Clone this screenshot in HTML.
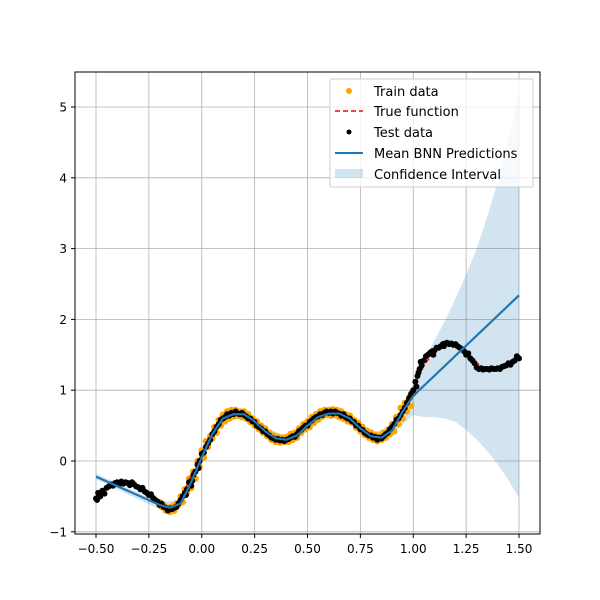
<!DOCTYPE html>
<html><head><meta charset="utf-8"><style>
body{margin:0;background:#fff;}
svg{display:block;font-family:"DejaVu Sans",sans-serif;}
</style></head><body>
<svg id="chart" width="600" height="600" xmlns="http://www.w3.org/2000/svg">
<rect width="600" height="600" fill="#fff"/>
<g id="grid"></g>
<g id="ci"></g>
<g id="train"></g>
<g id="truef"></g>
<g id="test"></g>
<g id="mean"></g>
<rect x="75" y="72" width="465" height="462" fill="none" stroke="#000" stroke-width="1"/>
<g id="ticks" font-size="12"></g>
<g font-size="13">
<rect x="330" y="79" width="203" height="108" rx="2" fill="#fff" fill-opacity="0.8" stroke="#ccc"/>
<g><circle cx="349" cy="91" r="3" fill="orange"/><text x="374" y="96">Train data</text></g>
<g><line x1="335" y1="111" x2="363" y2="111" stroke="red" stroke-width="1.5" stroke-dasharray="5,3"/><text x="374" y="116">True function</text></g>
<g><circle cx="349" cy="132" r="2.5" fill="#000"/><text x="374" y="137">Test data</text></g>
<g><line x1="335" y1="153" x2="363" y2="153" stroke="#1f77b4" stroke-width="2"/><text x="374" y="158">Mean BNN Predictions</text></g>
<g><rect x="335" y="169" width="28" height="9" fill="#1f77b4" fill-opacity="0.2"/><text x="374" y="179">Confidence Interval</text></g>
</g>
</svg>
<script>
const trueX=[-0.5,-0.45,-0.4,-0.35,-0.3,-0.25,-0.2,-0.15,-0.1,-0.05,0,0.05,0.1,0.15,0.2,0.25,0.3,0.35,0.4,0.45,0.5,0.55,0.6,0.65,0.7,0.75,0.8,0.85,0.9,0.95,1.0,1.05,1.1,1.15,1.2,1.25,1.3,1.35,1.4,1.45,1.5];
const trueY=[-0.5,-0.36,-0.31,-0.32,-0.38,-0.5,-0.63,-0.67,-0.55,-0.2,0.1,0.4,0.6,0.67,0.66,0.55,0.42,0.32,0.3,0.36,0.5,0.62,0.68,0.67,0.6,0.47,0.36,0.33,0.45,0.7,1.0,1.35,1.55,1.65,1.65,1.55,1.38,1.3,1.3,1.35,1.45];
const meanX=[-0.5,-0.2,-0.15,-0.1,-0.05,0,0.05,0.1,0.15,0.2,0.25,0.3,0.35,0.4,0.45,0.5,0.55,0.6,0.65,0.7,0.75,0.8,0.85,0.9,0.95,1.0,1.5];
const meanY=[-0.22,-0.62,-0.66,-0.6,-0.3,0.05,0.38,0.6,0.66,0.66,0.56,0.42,0.32,0.3,0.36,0.5,0.62,0.67,0.67,0.6,0.46,0.35,0.33,0.43,0.7,0.92,2.34];
const ciX=[-0.5,-0.2,-0.1,0,0.1,0.2,0.3,0.4,0.5,0.6,0.7,0.8,0.9,1.0,1.05,1.1,1.15,1.2,1.25,1.3,1.35,1.4,1.45,1.5];
const ciUpper=[-0.18,-0.58,-0.55,0.1,0.65,0.71,0.47,0.35,0.55,0.72,0.65,0.4,0.48,1.1,1.45,1.7,1.98,2.3,2.63,3.0,3.45,3.95,4.55,5.2];
const ciLower=[-0.26,-0.68,-0.65,0.0,0.55,0.61,0.37,0.25,0.45,0.62,0.55,0.3,0.38,0.65,0.62,0.62,0.6,0.55,0.44,0.3,0.14,-0.05,-0.27,-0.52];
const trainX=[-0.2,-0.19,-0.18,-0.17,-0.16,-0.15,-0.14,-0.13,-0.12,-0.11,-0.1,-0.09,-0.08,-0.07,-0.06,-0.05,-0.04,-0.03,-0.02,-0.01,0,0.01,0.02,0.03,0.04,0.05,0.06,0.07,0.08,0.09,0.1,0.11,0.12,0.13,0.14,0.15,0.16,0.17,0.18,0.19,0.2,0.21,0.22,0.23,0.24,0.25,0.26,0.27,0.28,0.29,0.3,0.31,0.32,0.33,0.34,0.35,0.36,0.37,0.38,0.39,0.4,0.41,0.42,0.43,0.44,0.45,0.46,0.47,0.48,0.49,0.5,0.51,0.52,0.53,0.54,0.55,0.56,0.57,0.58,0.59,0.6,0.61,0.62,0.63,0.64,0.65,0.66,0.67,0.68,0.69,0.7,0.71,0.72,0.73,0.74,0.75,0.76,0.77,0.78,0.79,0.8,0.81,0.82,0.83,0.84,0.85,0.86,0.87,0.88,0.89,0.9,0.91,0.92,0.93,0.94,0.95,0.96,0.97,0.98,0.99,1.0];
const trainY=[-0.58,-0.65,-0.62,-0.7,-0.66,-0.72,-0.64,-0.7,-0.6,-0.62,-0.5,-0.58,-0.4,-0.45,-0.25,-0.38,-0.15,-0.25,0.0,-0.08,0.15,0.05,0.28,0.2,0.35,0.32,0.48,0.4,0.58,0.5,0.65,0.56,0.7,0.6,0.72,0.63,0.72,0.64,0.7,0.62,0.7,0.6,0.66,0.55,0.6,0.5,0.56,0.45,0.5,0.4,0.46,0.35,0.4,0.3,0.36,0.27,0.34,0.26,0.33,0.27,0.34,0.27,0.38,0.3,0.4,0.33,0.46,0.4,0.52,0.45,0.56,0.48,0.62,0.54,0.66,0.58,0.7,0.63,0.72,0.65,0.72,0.64,0.73,0.65,0.72,0.62,0.7,0.6,0.66,0.56,0.64,0.54,0.58,0.47,0.54,0.42,0.48,0.37,0.43,0.33,0.4,0.3,0.37,0.28,0.36,0.3,0.4,0.33,0.44,0.38,0.52,0.42,0.62,0.52,0.75,0.6,0.82,0.7,0.9,0.78,0.95];
const testX=[-0.5,-0.49,-0.48,-0.47,-0.46,-0.45,-0.44,-0.43,-0.42,-0.41,-0.4,-0.39,-0.38,-0.37,-0.36,-0.35,-0.34,-0.33,-0.32,-0.31,-0.3,-0.29,-0.28,-0.27,-0.26,-0.25,-0.24,-0.23,-0.22,-0.21,-0.2,-0.19,-0.18,-0.17,-0.16,-0.15,-0.14,-0.13,-0.12,-0.11,-0.1,-0.09,-0.08,-0.07,-0.06,-0.05,-0.04,-0.03,-0.02,-0.01,0,0.01,0.02,0.03,0.04,0.05,0.06,0.07,0.08,0.09,0.1,0.11,0.12,0.13,0.14,0.15,0.16,0.17,0.18,0.19,0.2,0.21,0.22,0.23,0.24,0.25,0.26,0.27,0.28,0.29,0.3,0.31,0.32,0.33,0.34,0.35,0.36,0.37,0.38,0.39,0.4,0.41,0.42,0.43,0.44,0.45,0.46,0.47,0.48,0.49,0.5,0.51,0.52,0.53,0.54,0.55,0.56,0.57,0.58,0.59,0.6,0.61,0.62,0.63,0.64,0.65,0.66,0.67,0.68,0.69,0.7,0.71,0.72,0.73,0.74,0.75,0.76,0.77,0.78,0.79,0.8,0.81,0.82,0.83,0.84,0.85,0.86,0.87,0.88,0.89,0.9,0.91,0.92,0.93,0.94,0.95,0.96,0.97,0.98,0.99,1.0,1.01,1.02,1.03,1.04,1.05,1.06,1.07,1.08,1.09,1.1,1.11,1.12,1.13,1.14,1.15,1.16,1.17,1.18,1.19,1.2,1.21,1.22,1.23,1.24,1.25,1.26,1.27,1.28,1.29,1.3,1.31,1.32,1.33,1.34,1.35,1.36,1.37,1.38,1.39,1.4,1.41,1.42,1.43,1.44,1.45,1.46,1.47,1.48,1.49,1.5,-0.495,-0.485,-0.075,-0.045,-0.015,0.985,1.015,1.025,1.035,1.095,1.145];
const testY=[-0.53,-0.45,-0.5,-0.42,-0.46,-0.38,-0.36,-0.33,-0.35,-0.31,-0.3,-0.33,-0.29,-0.32,-0.3,-0.31,-0.34,-0.3,-0.33,-0.36,-0.37,-0.4,-0.38,-0.43,-0.45,-0.48,-0.47,-0.52,-0.55,-0.57,-0.62,-0.6,-0.65,-0.66,-0.7,-0.67,-0.68,-0.66,-0.65,-0.6,-0.55,-0.5,-0.45,-0.4,-0.3,-0.35,-0.2,-0.15,-0.05,0.0,0.1,0.12,0.2,0.25,0.3,0.38,0.42,0.48,0.52,0.58,0.6,0.62,0.66,0.64,0.68,0.66,0.7,0.67,0.66,0.68,0.65,0.63,0.6,0.6,0.56,0.55,0.5,0.48,0.46,0.42,0.42,0.38,0.36,0.33,0.32,0.3,0.31,0.29,0.3,0.28,0.3,0.31,0.33,0.35,0.34,0.38,0.42,0.44,0.47,0.5,0.5,0.55,0.57,0.6,0.62,0.63,0.66,0.65,0.68,0.7,0.68,0.7,0.67,0.7,0.68,0.67,0.64,0.66,0.62,0.6,0.6,0.56,0.55,0.5,0.5,0.45,0.44,0.4,0.38,0.36,0.36,0.33,0.34,0.3,0.33,0.32,0.35,0.38,0.4,0.45,0.48,0.52,0.58,0.6,0.65,0.7,0.75,0.82,0.88,0.95,1.0,1.12,1.2,1.3,1.35,1.42,1.48,1.5,1.53,1.55,1.56,1.6,1.6,1.62,1.65,1.66,1.67,1.65,1.66,1.64,1.65,1.62,1.6,1.58,1.55,1.5,1.52,1.45,1.42,1.38,1.32,1.3,1.31,1.29,1.3,1.3,1.29,1.31,1.3,1.3,1.31,1.3,1.33,1.34,1.35,1.38,1.36,1.4,1.42,1.48,1.45,-0.55,-0.48,-0.48,-0.28,-0.1,0.9,1.05,1.25,1.4,1.5,1.62];
const xTicks=[-0.5,-0.25,0,0.25,0.5,0.75,1.0,1.25,1.5];
const xTickLabels=["−0.50","−0.25","0.00","0.25","0.50","0.75","1.00","1.25","1.50"];
const yTicks=[-1,0,1,2,3,4,5];
const yTickLabels=["−1","0","1","2","3","4","5"];
const NS='http://www.w3.org/2000/svg';
const sx=x=>96+(x+0.5)*211.5;
const sy=y=>461-y*70.8;
function mk(tag,parent,attrs){const e=document.createElementNS(NS,tag);for(const k in attrs)e.setAttribute(k,attrs[k]);document.getElementById(parent).appendChild(e);return e;}
xTicks.forEach((t,i)=>{
 const g=mk('line','grid',{x1:sx(t),x2:sx(t),y1:72,y2:534,stroke:'#b0b0b0','stroke-width':0.8});
 
 
 const tk=mk('line','ticks',{x1:sx(t),x2:sx(t),y1:534,y2:538,stroke:'#000'});
 
 
 const tx=mk('text','ticks',{x:sx(t),y:553,'text-anchor':'middle'});
 tx.textContent=xTickLabels[i];
 
 
});
yTicks.forEach((t,i)=>{
 const g=mk('line','grid',{x1:75,x2:540,y1:sy(t),y2:sy(t),stroke:'#b0b0b0','stroke-width':0.8});
 
 
 const tk=mk('line','ticks',{x1:71,x2:75,y1:sy(t),y2:sy(t),stroke:'#000'});
 
 
 const tx=mk('text','ticks',{x:67,y:sy(t)+4.5,'text-anchor':'end'});
 tx.textContent=yTickLabels[i];
 
 
});
let d='';ciX.forEach((x,i)=>{d+=(i?'L':'M')+sx(x)+','+sy(ciUpper[i]);});
for(let i=ciX.length-1;i>=0;i--)d+='L'+sx(ciX[i])+','+sy(ciLower[i]);
const ci=mk('path','ci',{d:d+'Z',fill:'#1f77b4','fill-opacity':0.2});


trainX.forEach((x,i)=>{
 const c=mk('circle','train',{cx:sx(x),cy:sy(trainY[i]),r:3.3,fill:'orange'});
 
 
});
const tl=mk('polyline','truef',{points:trueX.map((x,i)=>sx(x)+','+sy(trueY[i])).join(' '),fill:'none',stroke:'red','stroke-width':1.5,'stroke-dasharray':'5,3'});


testX.forEach((x,i)=>{
 const c=mk('circle','test',{cx:sx(x),cy:sy(testY[i]),r:3,fill:'#000'});
 
 
});
const ml=mk('polyline','mean',{points:meanX.map((x,i)=>sx(x)+','+sy(meanY[i])).join(' '),fill:'none',stroke:'#1f77b4','stroke-width':2.2});


</script>
</body></html>
